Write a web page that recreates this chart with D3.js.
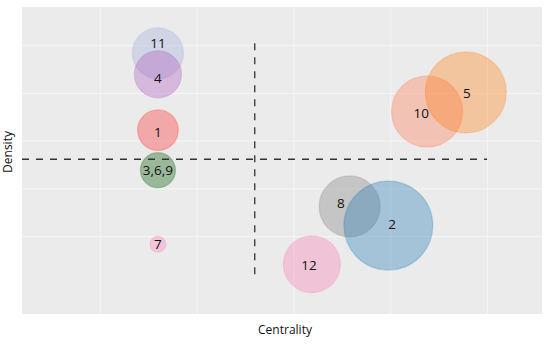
<!DOCTYPE html>
<html>
<head>
<meta charset="utf-8">
<script src="https://cdn.jsdelivr.net/npm/d3@7"></script>
<style>
  body { margin: 0; background: #fff; }
  text { font-family: "Open Sans", "DejaVu Sans", sans-serif; fill: #111; }
  .grid line { stroke: #f6f6f6; stroke-width: 1; }
  .grid path { display: none; }
</style>
</head>
<body>
<svg id="chart"></svg>
<script>
// bubble data (centrality, density, size)
var labels    = ["11", "4", "1", "3,6,9", "7", "10", "5", "8", "2", "12"];
var centrality = [1.60, 1.60, 1.60, 1.60, 1.60, 4.38, 4.78, 3.58, 3.98, 3.19];
var density    = [4.83, 4.39, 3.22, 2.38, 0.83, 3.61, 4.01, 1.62, 1.22, 0.41];
var sizes      = [33, 28, 21, 15.5, 3.2, 64, 83, 47, 100, 41];
var colors     = ["#9aabd8", "#b05ac0", "#ff2a2a", "#005a00", "#ff7fb5",
                  "#ff7651", "#ff7f0e", "#7f7f7f", "#1f77b4", "#f87aae"];
// label anchor points (data units)
var labelX = [1.60, 1.60, 1.60, 1.60, 1.60, 4.32, 4.79, 3.49, 4.02, 3.16];
var labelY = [5.04, 4.31, 3.18, 2.38, 0.83, 3.57, 4.00, 1.68, 1.25, 0.39];
var gridTicks = [1, 2, 3, 4, 5];
// quadrant dividers
var meanCentrality = 2.6, meanDensity = 2.61;

var margin = { top: 7, right: 8, bottom: 32, left: 22 },
    width = 550 - margin.left - margin.right,
    height = 346 - margin.top - margin.bottom;

var svg = d3.select("#chart")
    .attr("width", 550)
    .attr("height", 346)
    .append("g")
    .attr("transform", `translate(${margin.left}, ${margin.top})`);

var x = d3.scaleLinear().domain([0.196, 5.567]).range([0, width]);
var y = d3.scaleLinear().domain([-0.633, 5.8]).range([height, 0]);
var r = d3.scaleSqrt().domain([0, 100]).range([0, 44.5]);

svg.append("rect")
    .attr("width", width)
    .attr("height", height)
    .attr("fill", "#ebebeb");

svg.append("g")
    .attr("class", "grid")
    .attr("transform", `translate(0, ${height})`)
    .call(d3.axisBottom(x).tickValues(gridTicks).tickSize(-height).tickFormat(""));

svg.append("g")
    .attr("class", "grid")
    .call(d3.axisLeft(y).tickValues(gridTicks).tickSize(-width).tickFormat(""));

var data = labels.map((l, i) => ({
    label: l, cx: centrality[i], cy: density[i], size: sizes[i],
    color: colors[i], lx: labelX[i], ly: labelY[i]
}));

svg.selectAll("circle.bubble")
    .data(data)
    .enter()
    .append("circle")
    .attr("class", "bubble")
    .attr("cx", d => x(d.cx))
    .attr("cy", d => y(d.cy))
    .attr("r", d => r(d.size))
    .attr("fill", d => d.color)
    .attr("fill-opacity", 0.35)
    .attr("stroke", d => d.color)
    .attr("stroke-opacity", 0.25)
    .attr("stroke-width", 1.2);

// dashed quadrant lines
svg.append("line")
    .attr("x1", x(meanCentrality)).attr("x2", x(meanCentrality))
    .attr("y1", y(5.04)).attr("y2", y(0.18))
    .attr("stroke", "#333").attr("stroke-width", 1.3)
    .attr("stroke-dasharray", "7,7");

svg.append("line")
    .attr("x1", 0).attr("x2", x(5.0))
    .attr("y1", y(meanDensity)).attr("y2", y(meanDensity))
    .attr("stroke", "#333").attr("stroke-width", 1.3)
    .attr("stroke-dasharray", "7,7");

svg.selectAll("text.lbl")
    .data(data)
    .enter()
    .append("text")
    .attr("class", "lbl")
    .attr("x", d => x(d.lx))
    .attr("y", d => y(d.ly))
    .attr("dy", "0.36em")
    .style("text-anchor", "middle")
    .style("font-size", "13.5px")
    .text(d => d.label);

// axis titles
svg.append("text")
    .attr("x", width / 2 + 3)
    .attr("y", height + 20)
    .style("text-anchor", "middle")
    .style("font-size", "12px")
    .text("Centrality");

svg.append("text")
    .attr("transform", "rotate(-90)")
    .attr("x", -145)
    .attr("y", -10)
    .style("text-anchor", "middle")
    .style("font-size", "12px")
    .text("Density");
</script>
</body>
</html>
